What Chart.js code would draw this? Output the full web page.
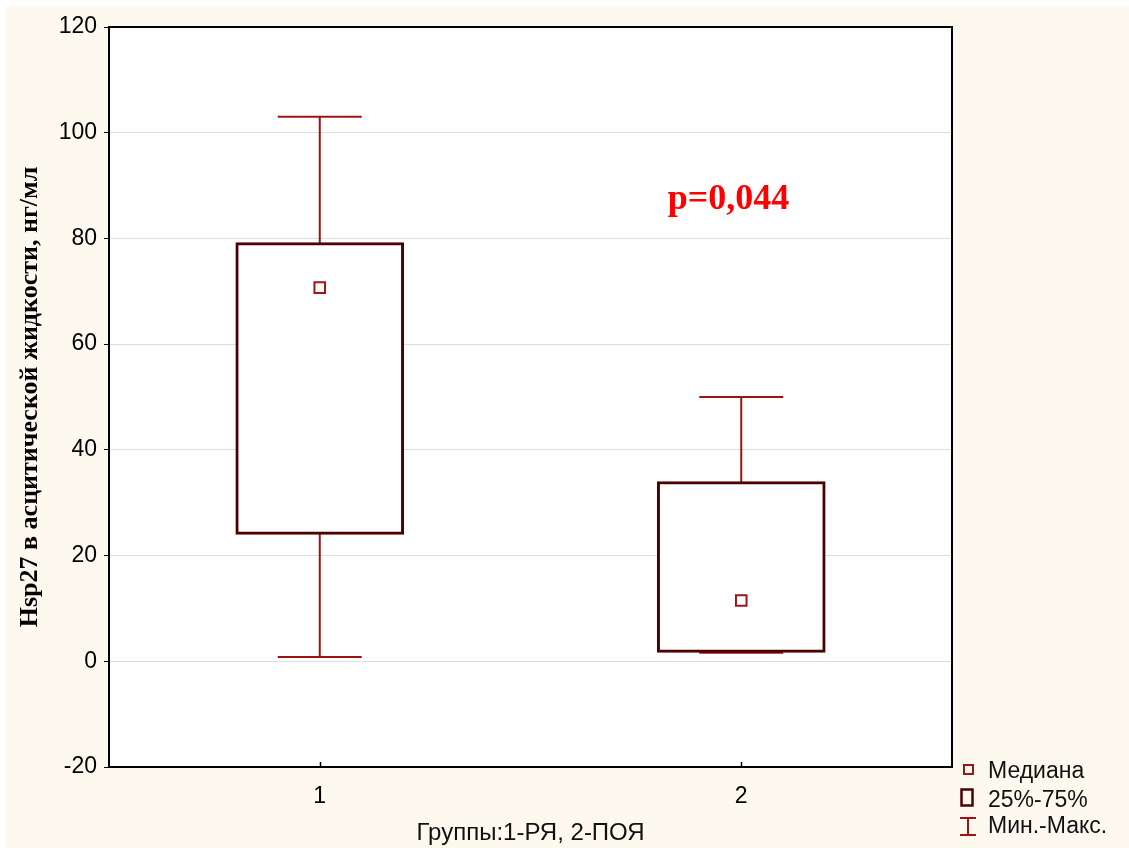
<!DOCTYPE html>
<html lang="ru">
<head>
<meta charset="UTF-8">
<title>Hsp27 в асцитической жидкости</title>
<script src="https://cdn.jsdelivr.net/npm/chart.js"></script>
<style>
  html, body { margin: 0; padding: 0; background: #fff; }
  #wrap { position: absolute; left: 6px; top: 6px; width: 1123px; height: 842px; background: #fdf9ef; }
</style>
</head>
<body>
<div id="wrap"><canvas id="boxChart" width="1123" height="842"></canvas></div>
<script>
// группы и описательная статистика Hsp27, нг/мл
const groups = ['1', '2'];
const q1 = [24, 1.7];
const q3 = [79.2, 34];
const medians = [70.7, 11.5];
const mins = [0.8, 1.6];
const maxs = [103, 50];
const yMin = -20, yMax = 120, yStep = 20;
const legendLabels = ['Медиана', '25%-75%', 'Мин.-Макс.'];
const pLabel = 'p=0,044';
const pAt = { x: 1.97, y: 87.4 };

const WHISKER = '#9a1414';
const BOX = '#4b0000';
const MEDIAN = '#981818';
const SANS = '"Liberation Sans", Arial, sans-serif';
const SERIF = '"Liberation Serif", "Times New Roman", serif';

// вертикальные усы: по одному отрезку мин–макс на группу (лежат под коробкой)
const whiskerSets = groups.map((g, i) => ({
  type: 'line',
  data: [{ x: i + 1, y: mins[i] }, { x: i + 1, y: maxs[i] }],
  borderColor: WHISKER,
  borderWidth: 2,
  pointRadius: 0,
  order: 4
}));

const capSet = {
  type: 'scatter',
  data: groups.flatMap((g, i) => [{ x: i + 1, y: mins[i] }, { x: i + 1, y: maxs[i] }]),
  pointStyle: 'line',
  pointRadius: 42,
  pointHoverRadius: 42,
  borderColor: WHISKER,
  borderWidth: 2,
  order: 3
};

const boxSet = {
  type: 'bar',
  data: groups.map((g, i) => ({ x: i + 1, y: [q1[i], q3[i]] })),
  backgroundColor: '#fff',
  borderColor: BOX,
  borderWidth: 3,
  borderSkipped: false,
  barThickness: 168,
  order: 2
};

const medianSet = {
  type: 'scatter',
  data: groups.map((g, i) => ({ x: i + 1, y: medians[i] })),
  pointStyle: 'rect',
  pointRadius: 7.5,
  pointHoverRadius: 7.5,
  backgroundColor: '#fff',
  borderColor: MEDIAN,
  borderWidth: 2,
  order: 1
};

const framePlugin = {
  id: 'frame',
  beforeDraw(chart) {
    const { ctx, chartArea: a } = chart;
    ctx.save();
    ctx.fillStyle = '#fff';
    ctx.fillRect(a.left, a.top, a.right - a.left, a.bottom - a.top);
    ctx.restore();
  },
  afterDraw(chart) {
    const { ctx, chartArea: a, scales } = chart;
    ctx.save();
    ctx.strokeStyle = '#000';
    ctx.lineWidth = 2;
    ctx.strokeRect(a.left, a.top, a.right - a.left, a.bottom - a.top);

    // засечки на оси X внутрь
    ctx.lineWidth = 1.5;
    groups.forEach((g, i) => {
      const x = Math.round(scales.x.getPixelForValue(i + 1)) + 0.5;
      ctx.beginPath();
      ctx.moveTo(x, a.bottom);
      ctx.lineTo(x, a.bottom - 5);
      ctx.stroke();
    });

    // уровень значимости
    ctx.fillStyle = '#ff0000';
    ctx.font = 'bold 36px ' + SERIF;
    ctx.textAlign = 'center';
    ctx.textBaseline = 'middle';
    ctx.fillText(pLabel, scales.x.getPixelForValue(pAt.x), scales.y.getPixelForValue(pAt.y));

    // легенда справа внизу
    ctx.font = '23px ' + SANS;
    ctx.fillStyle = '#111';
    ctx.textAlign = 'left';
    ctx.textBaseline = 'alphabetic';
    const tx = 982;
    const base = [772, 801, 827];
    legendLabels.forEach((t, i) => ctx.fillText(t, tx, base[i]));

    ctx.strokeStyle = MEDIAN;
    ctx.lineWidth = 2;
    ctx.strokeRect(958, 759, 9, 9);

    ctx.strokeStyle = BOX;
    ctx.lineWidth = 2.5;
    ctx.strokeRect(955.5, 783.5, 11, 16);

    ctx.strokeStyle = WHISKER;
    ctx.lineWidth = 2;
    ctx.beginPath();
    ctx.moveTo(954, 812); ctx.lineTo(970, 812);
    ctx.moveTo(962, 812); ctx.lineTo(962, 829);
    ctx.moveTo(954, 829); ctx.lineTo(970, 829);
    ctx.stroke();
    ctx.restore();
  }
};

new Chart(document.getElementById('boxChart'), {
  type: 'bar',
  data: { datasets: [...whiskerSets, capSet, boxSet, medianSet] },
  options: {
    responsive: false,
    animation: false,
    devicePixelRatio: 1,
    layout: { autoPadding: false, padding: { left: 0, top: 21, right: 177, bottom: 0 } },
    plugins: { legend: { display: false }, tooltip: { enabled: false } },
    scales: {
      x: {
        type: 'linear',
        min: 0.5,
        max: 2.5,
        offset: false,
        afterBuildTicks: s => { s.ticks = groups.map((g, i) => ({ value: i + 1 })); },
        afterFit: s => { s.height = 81; s.paddingLeft = 0; s.paddingRight = 0; },
        grid: { display: false },
        border: { display: false },
        ticks: {
          color: '#000',
          padding: 8,
          font: { family: SANS, size: 23 },
          callback: v => groups[v - 1] ?? ''
        },
        title: {
          display: true,
          text: 'Группы:1-РЯ, 2-ПОЯ',
          color: '#111',
          font: { family: SANS, size: 24 },
          padding: { top: 0, bottom: 0 }
        }
      },
      y: {
        min: yMin,
        max: yMax,
        afterFit: s => { s.width = 103; s.paddingTop = 0; s.paddingBottom = 0; },
        grid: { color: '#dcdcdc', lineWidth: 1, tickColor: '#000', tickLength: 5 },
        border: { color: '#000', width: 2 },
        ticks: {
          stepSize: yStep,
          color: '#000',
          padding: 7,
          font: { family: SANS, size: 23 }
        },
        title: {
          display: true,
          text: 'Hsp27 в асцитической жидкости, нг/мл',
          color: '#000',
          font: { family: SERIF, size: 26, weight: 'bold' },
          padding: { top: 9, bottom: 0 }
        }
      }
    }
  },
  plugins: [framePlugin]
});
</script>
</body>
</html>
